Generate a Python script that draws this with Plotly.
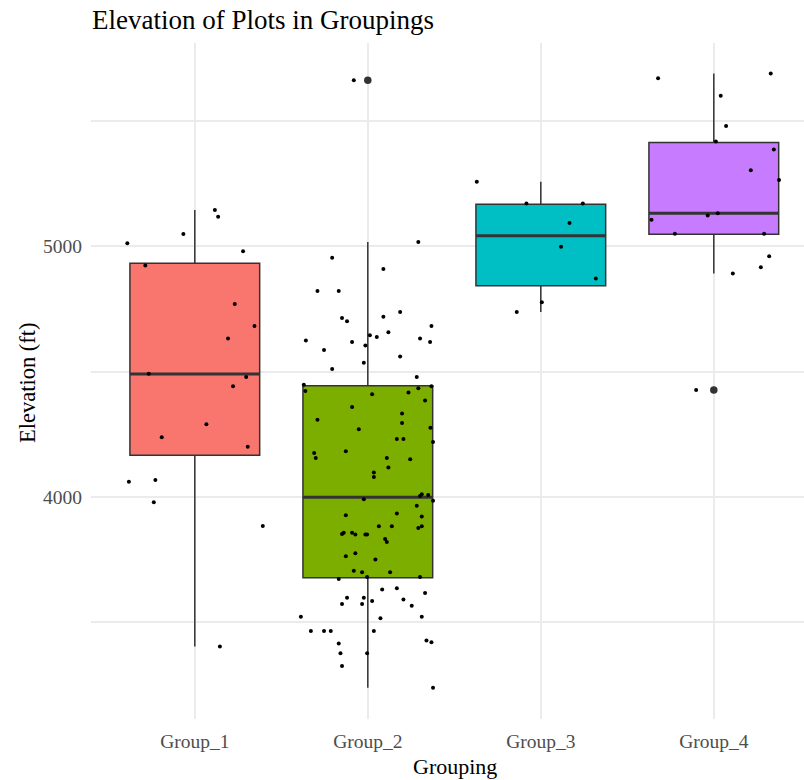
import plotly.graph_objects as go

# ---- data -------------------------------------------------------------
groups = ["Group_1", "Group_2", "Group_3", "Group_4"]
fill_colors = ["#F8766D", "#7CAE00", "#00BFC4", "#C77CFF"]

# five-number summaries (ft)
q1_vals = [4166, 3678, 4842, 5047]
median_vals = [4490, 3999, 5041, 5130]
q3_vals = [4931, 4443, 5166, 5412]
lower_whisker = [3404, 3240, 4737, 4890]
upper_whisker = [5143, 5016, 5256, 5687]

# points beyond the whiskers
outlier_group = [2, 4]
outlier_elev = [5660, 4426]

# plot elevations (ft) with their horizontal jitter (category units)
elev_g1 = [5143, 5117, 5048, 5011, 4979, 4922, 4769, 4681, 4631, 4491,
           4478, 4441, 4290, 4238, 4200, 4061, 4068, 3979, 3884, 3404]
jit_g1 = [0.116, 0.135, -0.066, -0.390, 0.279, -0.286, 0.231, 0.345, 0.192, -0.266,
          0.297, 0.221, 0.067, -0.191, 0.306, -0.381, -0.228, -0.237, 0.393, 0.145]

elev_g2 = [5660, 5016, 4953, 4908, 4821, 4821, 4737, 4713, 4700, 4718,
           4681, 4644, 4637, 4656, 4624, 4618, 4604, 4631, 4618, 4586,
           4560, 4535, 4510, 4478, 4447, 4422, 4409, 4416, 4433, 4441,
           4384, 4359, 4333, 4308, 4295, 4270, 4276, 4231, 4231, 4219,
           4182, 4175, 4155, 4155, 4150, 4118, 4098, 4080, 4004, 4011,
           4008, 3985, 3991, 3965, 3927, 3934, 3922, 3883, 3883, 3876,
           3883, 3853, 3858, 3858, 3851, 3851, 3851, 3833, 3821, 3764,
           3776, 3751, 3706, 3700, 3700, 3681, 3673, 3681, 3631, 3636,
           3618, 3599, 3599, 3586, 3592, 3574, 3574, 3567, 3523, 3517,
           3523, 3466, 3466, 3466, 3466, 3428, 3421, 3416, 3377, 3377,
           3327, 3240]
jit_g2 = [-0.081, 0.292, -0.206, 0.090, -0.291, -0.168, 0.187, -0.149, -0.120, 0.090,
          0.368, 0.012, 0.052, 0.119, -0.358, -0.091, -0.014, 0.302, 0.360, -0.253,
          0.187, -0.023, -0.206, 0.283, -0.370, -0.361, 0.025, 0.235, 0.292, 0.368,
          0.331, -0.091, 0.198, -0.291, 0.198, -0.052, 0.362, 0.168, 0.206, 0.377,
          -0.127, -0.310, -0.301, 0.110, 0.245, 0.119, 0.035, 0.035, 0.302, 0.312,
          0.349, 0.377, -0.023, 0.283, -0.127, 0.168, 0.312, 0.064, 0.139, 0.292,
          0.312, -0.149, -0.139, -0.091, -0.072, -0.014, -0.004, 0.100, 0.110, -0.127,
          -0.072, 0.044, -0.081, -0.033, 0.129, 0.302, -0.168, -0.004, 0.083, 0.168,
          0.331, -0.120, -0.023, 0.025, 0.206, -0.149, -0.033, 0.254, -0.387, 0.073,
          0.312, -0.329, -0.253, -0.214, 0.035, 0.339, 0.368, -0.168, -0.158, -0.004,
          -0.149, 0.377]

elev_g3 = [5256, 5169, 5169, 5092, 4997, 4871, 4776, 4737]
jit_g3 = [-0.370, -0.083, 0.243, 0.166, 0.117, 0.318, 0.006, -0.139]

elev_g4 = [5668, 5687, 5599, 5478, 5416, 5384, 5302, 5263, 5122, 5130,
           5105, 5049, 5049, 4959, 4915, 4890, 4426]
jit_g4 = [-0.322, 0.329, 0.040, 0.071, 0.012, 0.347, 0.214, 0.377, -0.035, 0.023,
          -0.360, -0.225, 0.291, 0.320, 0.272, 0.110, -0.102]

y_ticks = [3500, 4000, 4500, 5000, 5500]
y_tick_text = ["", "4000", "", "5000", ""]

# ---- styling -----------------------------------------------------------
BOX_WIDTH = 0.75
EDGE = "#333333"
SERIF = "Liberation Serif, Times New Roman, serif"

fig = go.Figure()

positions = list(range(1, len(groups) + 1))

for pos, color, lo, a, m, b, hi in zip(positions, fill_colors, lower_whisker,
                                        q1_vals, median_vals, q3_vals, upper_whisker):
    fig.add_trace(go.Box(
        x=[pos], q1=[a], median=[m], q3=[b],
        lowerfence=[lo], upperfence=[hi],
        width=BOX_WIDTH, whiskerwidth=0,
        fillcolor=color, line=dict(color=EDGE, width=1.5),
        boxpoints=False, hoverinfo="skip", showlegend=False,
    ))

# thicker median bars
for pos, m in zip(positions, median_vals):
    fig.add_trace(go.Scatter(
        x=[pos - BOX_WIDTH / 2, pos + BOX_WIDTH / 2], y=[m, m],
        mode="lines", line=dict(color=EDGE, width=3),
        hoverinfo="skip", showlegend=False,
    ))

# boxplot outliers
fig.add_trace(go.Scatter(
    x=outlier_group, y=outlier_elev, mode="markers",
    marker=dict(color=EDGE, size=7.5),
    hoverinfo="skip", showlegend=False,
))

# jittered observations
all_x, all_y = [], []
for pos, elev, jit in zip(positions, [elev_g1, elev_g2, elev_g3, elev_g4],
                          [jit_g1, jit_g2, jit_g3, jit_g4]):
    all_x += [pos + j for j in jit]
    all_y += elev
fig.add_trace(go.Scatter(
    x=all_x, y=all_y, mode="markers",
    marker=dict(color="black", size=4),
    hoverinfo="skip", showlegend=False,
))

GRID = "#EBEBEB"
fig.update_layout(
    width=804, height=780,
    margin=dict(l=91, r=0, t=43, b=61),
    paper_bgcolor="white", plot_bgcolor="white",
    boxmode="overlay",
    showlegend=False,
    title=dict(
        text="Elevation of Plots in Groupings",
        font=dict(family=SERIF, size=27, color="black"),
        xref="container", x=92 / 804, xanchor="left",
        yref="container", y=1 - 20 / 780, yanchor="middle",
    ),
    xaxis=dict(
        range=[0.4, 0.4 + 713 / 173],
        tickvals=positions, ticktext=groups,
        showgrid=True, gridcolor=GRID, gridwidth=1.5,
        zeroline=False, showline=False, ticks="",
        tickfont=dict(family=SERIF, size=19.5, color="#4D4D4D"),
        ticklabelstandoff=8,
    ),
    yaxis=dict(
        range=[3115.5, 5808.8],
        tickvals=y_ticks, ticktext=y_tick_text,
        showgrid=True, gridcolor=GRID, gridwidth=1.5,
        zeroline=False, showline=False, ticks="",
        tickfont=dict(family=SERIF, size=19.5, color="#4D4D4D"),
        ticklabelstandoff=8,
    ),
    annotations=[
        dict(text="Grouping", xref="paper", yref="paper",
             x=(455 - 91) / 713, y=(719 - 766) / 676,
             xanchor="center", yanchor="middle", showarrow=False,
             font=dict(family=SERIF, size=22, color="black")),
        dict(text="Elevation (ft)", xref="paper", yref="paper",
             x=(27 - 91) / 713, y=(719 - 383) / 676,
             xanchor="center", yanchor="middle", showarrow=False,
             textangle=-90,
             font=dict(family=SERIF, size=22.5, color="black")),
    ],
)

fig.write_html("out.html")
